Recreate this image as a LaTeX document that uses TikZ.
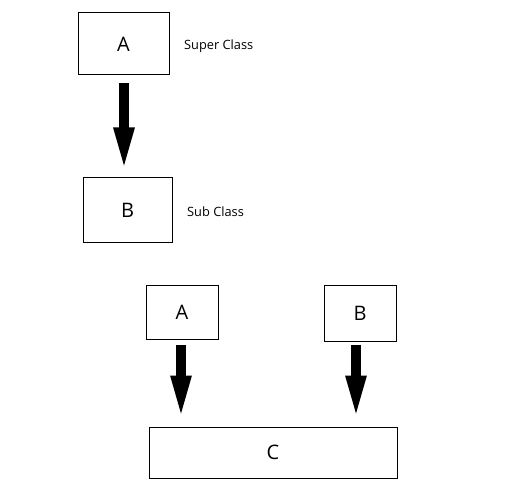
\documentclass[tikz,border=0pt]{standalone}
\usepackage{fontspec}
\setmainfont{Open Sans}
\usetikzlibrary{arrows.meta,calc}
\begin{document}
\begin{tikzpicture}[x=1pt,y=-1pt,
  box/.style={draw=black,line width=1pt,inner sep=0pt,font=\fontsize{20}{22}\selectfont},
  lbl/.style={inner sep=0pt,anchor=west,font=\fontsize{12.8}{14}\selectfont},
  bigarrow/.style={line width=10pt,-{Triangle[width=18pt,length=46pt]}}]
\useasboundingbox[fill=white] (0,0) rectangle (511,489);
% top pair
\node[box,minimum width=91pt,minimum height=62pt] (A) at (123.5,44) {A};
\node[box,minimum width=89pt,minimum height=64pt] (B) at (127.5,210) {B};
\node[lbl] (sup) at (184,46) {Super Class};
\node[lbl] (sub) at (187,212) {Sub Class};
\draw[bigarrow,shorten <=8pt,shorten >=4pt] ([xshift=0.5pt]A.south) -- ([xshift=0.5pt]A.south |- B.north);
% bottom group
\node[box,minimum width=72pt,minimum height=54pt] (A2) at (182,312) {A};
\node[box,minimum width=72pt,minimum height=56pt] (B2) at (360,313) {B};
\node[box,minimum width=248pt,minimum height=51pt] (C) at (273,452.5) {C};
\draw[bigarrow,shorten <=5pt,shorten >=5pt] ([xshift=-1pt]A2.south) -- ([xshift=-1pt]A2.south |- C.north);
\draw[bigarrow,shorten <=3pt,shorten >=5pt] ([xshift=-4pt]B2.south) -- ([xshift=-4pt]B2.south |- C.north);
\end{tikzpicture}
\end{document}
